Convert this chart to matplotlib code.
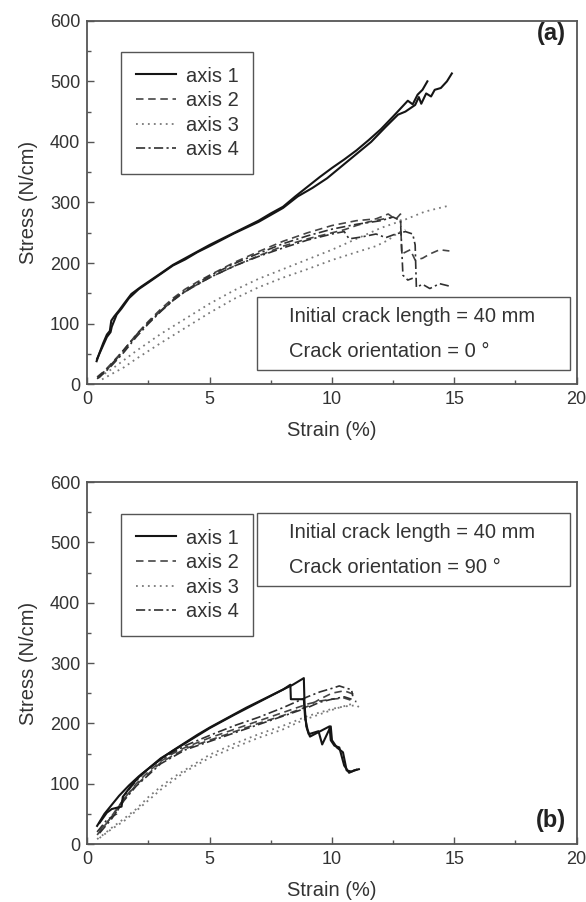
import matplotlib
matplotlib.use('Agg')
import matplotlib.pyplot as plt
import matplotlib.patches as patches
from matplotlib.ticker import MultipleLocator

plt.rcParams['font.family'] = ['Liberation Sans', 'DejaVu Sans']

# ── DATA: panel (a), crack orientation 0 deg ─────────────────────
a_ax1_x1 = [0.38, 0.5, 0.65, 0.8, 0.92, 0.98, 1.1, 1.3, 1.5, 1.8, 2.2, 2.6, 3.0, 3.5, 4.0, 4.5, 5.0, 5.5, 6.0, 6.5,
            7.0, 7.5, 8.0, 8.5, 9.0, 9.5, 10.0, 10.5, 11.0, 11.5, 12.0, 12.5, 12.8, 13.1, 13.3, 13.5, 13.7, 13.9]
a_ax1_y1 = [38, 52, 68, 82, 88, 105, 112, 122, 133, 149, 161, 172, 183, 197, 208, 219, 230, 240, 250, 260,
            270, 282, 293, 310, 326, 342, 357, 371, 386, 403, 421, 442, 455, 468, 462, 478, 486, 500]
a_ax1_x2 = [0.4, 0.6, 0.8, 0.95, 1.0, 1.2, 1.4, 1.7, 2.1, 2.5, 3.0, 3.5, 4.0, 4.5, 5.0, 6.0, 7.0, 8.0, 8.6, 9.2,
            9.8, 10.4, 11.0, 11.6, 12.2, 12.7, 13.0, 13.4, 13.55, 13.65, 13.85, 14.05, 14.2, 14.45, 14.7, 14.9]
a_ax1_y2 = [42, 60, 78, 86, 95, 115, 125, 142, 157, 168, 182, 196, 206, 218, 228, 249, 268, 291, 310, 324,
            340, 360, 380, 400, 425, 445, 450, 461, 474, 463, 480, 475, 486, 489, 500, 513]

a_ax2_x1 = [0.4, 0.7, 1.0, 1.5, 2.0, 2.5, 3.0, 3.5, 4.0, 4.5, 5.0, 6.0, 7.0, 8.0, 9.0, 10.0, 11.0, 11.8, 12.3,
            12.6, 12.8, 12.85, 13.2, 13.4, 13.7, 14.0, 14.4, 14.8]
a_ax2_y1 = [12, 22, 35, 57, 82, 104, 124, 142, 157, 169, 180, 201, 219, 236, 250, 262, 270, 273, 281,
            272, 281, 215, 222, 205, 208, 215, 222, 220]
a_ax2_x2 = [0.45, 0.8, 1.2, 1.7, 2.2, 2.7, 3.2, 3.7, 4.2, 5.0, 6.0, 7.0, 8.0, 9.0, 10.0, 10.5, 11.0, 11.5, 12.0, 12.4]
a_ax2_y2 = [10, 24, 42, 66, 90, 110, 128, 145, 158, 176, 195, 212, 228, 240, 250, 255, 262, 268, 272, 275]

a_ax3_x1 = [0.5, 1.0, 1.5, 2.0, 3.0, 4.0, 5.0, 6.0, 7.0, 8.0, 9.0, 10.0, 11.0, 12.0, 13.0, 13.8, 14.3, 14.8]
a_ax3_y1 = [12, 25, 40, 55, 83, 108, 133, 155, 174, 190, 206, 222, 240, 258, 272, 285, 290, 295]
a_ax3_x2 = [0.6, 1.0, 1.5, 2.0, 3.0, 4.0, 5.0, 6.0, 7.0, 8.0, 9.0, 10.0, 11.0, 11.8, 12.3, 12.7, 13.0]
a_ax3_y2 = [8, 17, 28, 42, 68, 93, 118, 141, 160, 176, 190, 205, 218, 228, 238, 250, 255]

a_ax4_x1 = [0.4, 0.7, 1.0, 1.5, 2.0, 2.5, 3.0, 3.5, 4.0, 5.0, 6.0, 7.0, 8.0, 9.0, 10.0, 10.5, 10.7, 11.2, 11.8,
            12.2, 12.6, 13.0, 13.3, 13.4, 13.45, 13.7, 14.0, 14.4, 14.8]
a_ax4_y1 = [9, 19, 31, 53, 78, 100, 120, 138, 153, 176, 195, 211, 225, 238, 248, 252, 240, 243, 248,
            242, 248, 252, 248, 230, 160, 165, 158, 166, 162]
a_ax4_x2 = [0.42, 0.75, 1.1, 1.6, 2.1, 2.6, 3.1, 3.6, 4.1, 5.0, 6.0, 7.0, 8.0, 9.0, 10.0, 11.0, 12.0, 12.5, 12.8,
            12.9, 13.1, 13.3]
a_ax4_y2 = [11, 23, 38, 62, 86, 106, 125, 143, 157, 179, 199, 216, 232, 245, 256, 264, 270, 276, 270,
            180, 172, 175]

# ── DATA: panel (b), crack orientation 90 deg ────────────────────
b_ax1_x1 = [0.4, 0.7, 1.0, 1.3, 1.7, 2.1, 2.6, 3.0, 3.5, 4.0, 4.5, 5.0, 5.5, 6.0, 6.5, 7.0, 7.5, 8.0, 8.4, 8.85,
            8.88, 8.95, 9.05, 9.45, 9.6, 9.95, 10.0, 10.2, 10.45, 10.6, 10.8, 11.0]
b_ax1_y1 = [30, 50, 65, 80, 97, 112, 128, 141, 155, 168, 181, 193, 204, 215, 226, 236, 246, 256, 264, 275,
            230, 195, 182, 187, 165, 195, 172, 160, 152, 122, 120, 123]
b_ax1_x2 = [0.5, 0.8, 1.0, 1.2, 1.4, 1.45, 1.8, 2.2, 3.0, 4.0, 5.0, 6.0, 7.0, 8.0, 8.3, 8.32, 8.85, 8.9, 9.0,
            9.1, 9.9, 9.95, 10.1, 10.3, 10.5, 10.7, 10.9, 11.1]
b_ax1_y2 = [35, 52, 58, 60, 62, 78, 97, 115, 142, 167, 192, 214, 235, 256, 264, 240, 240, 210, 190,
            178, 195, 172, 163, 160, 130, 118, 122, 124]

b_ax2_x1 = [0.4, 0.8, 1.2, 1.6, 2.0, 2.5, 3.0, 3.5, 4.0, 5.0, 6.0, 7.0, 8.0, 8.5, 9.0, 9.5, 10.0, 10.5, 10.8, 11.0]
b_ax2_y1 = [15, 35, 58, 80, 100, 120, 137, 150, 160, 176, 190, 204, 218, 225, 232, 237, 240, 242, 238, 236]
b_ax2_x2 = [0.5, 1.0, 1.5, 2.0, 3.0, 4.0, 5.0, 6.0, 7.0, 8.0, 9.0, 9.5, 10.0, 10.5, 10.9]
b_ax2_y2 = [22, 45, 75, 98, 135, 158, 172, 186, 200, 213, 228, 240, 250, 254, 248]

b_ax3_x1 = [0.4, 0.7, 1.0, 1.5, 2.0, 2.5, 3.0, 3.5, 4.0, 5.0, 6.0, 7.0, 8.0, 8.5, 9.0, 9.5, 10.0, 10.5, 11.0, 11.1]
b_ax3_y1 = [8, 17, 27, 42, 58, 78, 95, 110, 123, 148, 166, 182, 196, 204, 212, 218, 224, 228, 230, 227]
b_ax3_x2 = [0.5, 1.0, 1.5, 2.0, 3.0, 4.0, 5.0, 6.0, 7.0, 8.0, 8.8, 9.5, 10.2, 10.8]
b_ax3_y2 = [10, 25, 38, 55, 90, 120, 143, 160, 176, 190, 205, 215, 225, 232]

b_ax4_x1 = [0.4, 0.8, 1.2, 1.3, 1.6, 2.0, 2.5, 3.0, 3.5, 4.0, 5.0, 6.0, 7.0, 8.0, 8.5, 9.0, 9.5, 10.0, 10.3,
            10.6, 10.8, 10.85]
b_ax4_y1 = [20, 40, 50, 62, 85, 105, 125, 140, 152, 163, 180, 196, 210, 226, 235, 244, 252, 258, 262,
            258, 256, 245]
b_ax4_x2 = [0.5, 1.0, 1.5, 2.0, 3.0, 4.0, 5.0, 6.0, 7.0, 8.0, 9.0, 9.5, 10.0, 10.5, 10.8]
b_ax4_y2 = [18, 42, 72, 96, 133, 156, 170, 184, 198, 212, 226, 235, 240, 244, 240]

labels = ['axis 1', 'axis 2', 'axis 3', 'axis 4']
crack_length = 'Initial crack length = 40 mm'
orientations = ['Crack orientation = 0 \u00b0', 'Crack orientation = 90 \u00b0']
panel_tags = ['(a)', '(b)']

# ── STYLE ────────────────────────────────────────────────────────
STYLES = [
    dict(color='#151515', lw=1.5, ls='-'),
    dict(color='#454545', lw=1.2, ls=(0, (4.5, 2.8))),
    dict(color='#7a7a7a', lw=1.3, ls=(0, (1, 2.3))),
    dict(color='#303030', lw=1.2, ls=(0, (5.5, 2, 1.3, 2))),
]
EDGE = '#555555'
TXT = '#333333'

fig = plt.figure(figsize=(5.86, 9.02), dpi=100)
ax_a = fig.add_axes([0.149, 0.574, 0.835, 0.403])
ax_b = fig.add_axes([0.149, 0.0643, 0.835, 0.4013])

panels = [
    (ax_a, [[(a_ax1_x1, a_ax1_y1), (a_ax1_x2, a_ax1_y2)],
            [(a_ax2_x1, a_ax2_y1), (a_ax2_x2, a_ax2_y2)],
            [(a_ax3_x1, a_ax3_y1), (a_ax3_x2, a_ax3_y2)],
            [(a_ax4_x1, a_ax4_y1), (a_ax4_x2, a_ax4_y2)]]),
    (ax_b, [[(b_ax1_x1, b_ax1_y1), (b_ax1_x2, b_ax1_y2)],
            [(b_ax2_x1, b_ax2_y1), (b_ax2_x2, b_ax2_y2)],
            [(b_ax3_x1, b_ax3_y1), (b_ax3_x2, b_ax3_y2)],
            [(b_ax4_x1, b_ax4_y1), (b_ax4_x2, b_ax4_y2)]]),
]

for i, (ax, series) in enumerate(panels):
    handles = []
    for k, traces in enumerate(series):
        for j, (xs, ys) in enumerate(traces):
            ln, = ax.plot(xs, ys, **STYLES[k], zorder=3 if k == 0 else 2)
            if j == 0:
                handles.append(ln)

    ax.set_xlim(0, 20)
    ax.set_ylim(0, 600)
    ax.xaxis.set_major_locator(MultipleLocator(5))
    ax.xaxis.set_minor_locator(MultipleLocator(2.5))
    ax.yaxis.set_major_locator(MultipleLocator(100))
    ax.yaxis.set_minor_locator(MultipleLocator(50))
    ax.tick_params(which='both', direction='in', colors=EDGE, labelcolor=TXT, labelsize=13, pad=5)
    ax.tick_params(which='major', length=5, width=1)
    ax.tick_params(which='minor', length=3, width=1)
    for s in ax.spines.values():
        s.set_color(EDGE)
        s.set_linewidth(1.3)

    ax.set_xlabel('Strain (%)', fontsize=14.5, color=TXT)
    ax.set_ylabel('Stress (N/cm)', fontsize=14.5, color=TXT)
    ax.xaxis.set_label_coords(0.5, -0.128)
    ax.xaxis.label.set_va('center')
    ax.yaxis.set_label_coords(-0.121, 0.5)
    ax.yaxis.label.set_va('center')

    leg_top = 0.914 if i == 0 else 0.9116
    leg = ax.legend(handles, labels, loc='upper left', bbox_to_anchor=(0.069, leg_top),
                    borderaxespad=0, fontsize=14.5, handlelength=2.0, handletextpad=0.5,
                    labelspacing=0.28, borderpad=0.72, fancybox=False, framealpha=1)
    leg.get_frame().set_edgecolor(EDGE)
    leg.get_frame().set_linewidth(1.0)
    for t in leg.get_texts():
        t.set_color(TXT)

    # info box
    if i == 0:
        by0, by1, ty1, ty2 = 0.0385, 0.2403, 0.1852, 0.0889
        tag_y = 0.966
    else:
        by0, by1, ty1, ty2 = 0.7135, 0.9135, 0.860, 0.763
        tag_y = 0.066
    ax.add_patch(patches.Rectangle((0.3465, by0), 0.6396, by1 - by0, transform=ax.transAxes,
                                   facecolor='white', edgecolor=EDGE, linewidth=1.0, zorder=4))
    ax.text(0.4117, ty1, crack_length, transform=ax.transAxes, fontsize=14.5, color=TXT,
            ha='left', va='center', zorder=5)
    ax.text(0.4117, ty2, orientations[i], transform=ax.transAxes, fontsize=14.5, color=TXT,
            ha='left', va='center', zorder=5)
    ax.text(0.948, tag_y, panel_tags[i], transform=ax.transAxes, fontsize=17, fontweight='bold',
            color='#222222', ha='center', va='center', zorder=5)

fig.savefig('out.png', dpi=100, facecolor='white')
